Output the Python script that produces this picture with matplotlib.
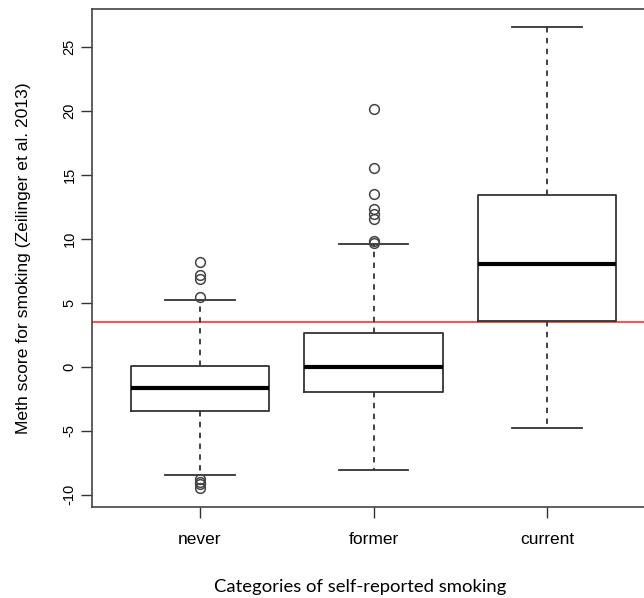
import matplotlib
matplotlib.use("Agg")
import matplotlib.pyplot as plt

categories = ["never", "former", "current"]
medians = [-1.69, -0.05, 8.01]
q1 = [-3.44, -2.0, 3.58]
q3 = [0.05, 2.66, 13.41]
whisker_low = [-8.47, -8.08, -4.8]
whisker_high = [5.22, 9.6, 26.55]
outliers = [
    [5.48, 6.84, 7.18, 8.17, -8.75, -9.0, -9.2, -9.45],
    [9.65, 9.86, 11.53, 11.95, 12.32, 13.51, 15.57, 20.14],
    [],
]
threshold = 3.5
yticks = [-10, -5, 0, 5, 10, 15, 20, 25]

plt.rcParams['font.family'] = ['Liberation Sans', 'DejaVu Sans']

W, H = 644, 598
fig = plt.figure(figsize=(W / 100, H / 100), dpi=100)
left, right, top, bottom = 92.4, 654.6, 9.3, 506.7
ax = fig.add_axes([left / W, 1 - bottom / H, (right - left) / W, (bottom - top) / H])

stats = []
for i, c in enumerate(categories):
    stats.append(dict(label=c, med=medians[i], q1=q1[i], q3=q3[i],
                      whislo=whisker_low[i], whishi=whisker_high[i],
                      fliers=outliers[i]))

lc = '#333333'
ax.bxp(stats, positions=[1, 2, 3], widths=0.8, showfliers=True,
       boxprops=dict(color=lc, linewidth=1.3),
       whiskerprops=dict(color=lc, linewidth=1.3, linestyle=(0, (3, 3))),
       capprops=dict(color=lc, linewidth=1.3),
       medianprops=dict(color='black', linewidth=3),
       flierprops=dict(marker='o', markersize=7, markerfacecolor='none',
                       markeredgecolor='#444444', markeredgewidth=1.1,
                       linestyle='none'),
       capwidths=0.4)

ax.axhline(threshold, color='#ff3030', linewidth=1.2, zorder=0)

ax.set_xlim(0.38, 3.62)
ax.set_ylim(-10.95, 27.97)
ax.set_yticks(yticks)
ax.set_yticklabels([str(t) for t in yticks], rotation=90, va='center', fontsize=10.5)
ax.set_xticks([1, 2, 3])
ax.set_xticklabels(categories, fontsize=12.5)
ax.tick_params(axis='y', length=8, width=1, color=lc, pad=3.5)
ax.tick_params(axis='x', length=8, width=1, color=lc, pad=10)
for s in ['left', 'bottom', 'top']:
    ax.spines[s].set_color('#444444')
    ax.spines[s].set_linewidth(1.2)
ax.spines['right'].set_visible(False)

ax.set_ylabel("Meth score for smoking (Zeilinger et al. 2013)", fontsize=12.6)
ax.yaxis.set_label_coords((31 - left) / (right - left), 0.5)

fig.text(360 / W, 1 - 587 / H, "Categories of self-reported smoking",
         ha='center', va='center', fontsize=13.3, family=['Lato', 'DejaVu Sans'])

fig.savefig("out.png", dpi=100)
